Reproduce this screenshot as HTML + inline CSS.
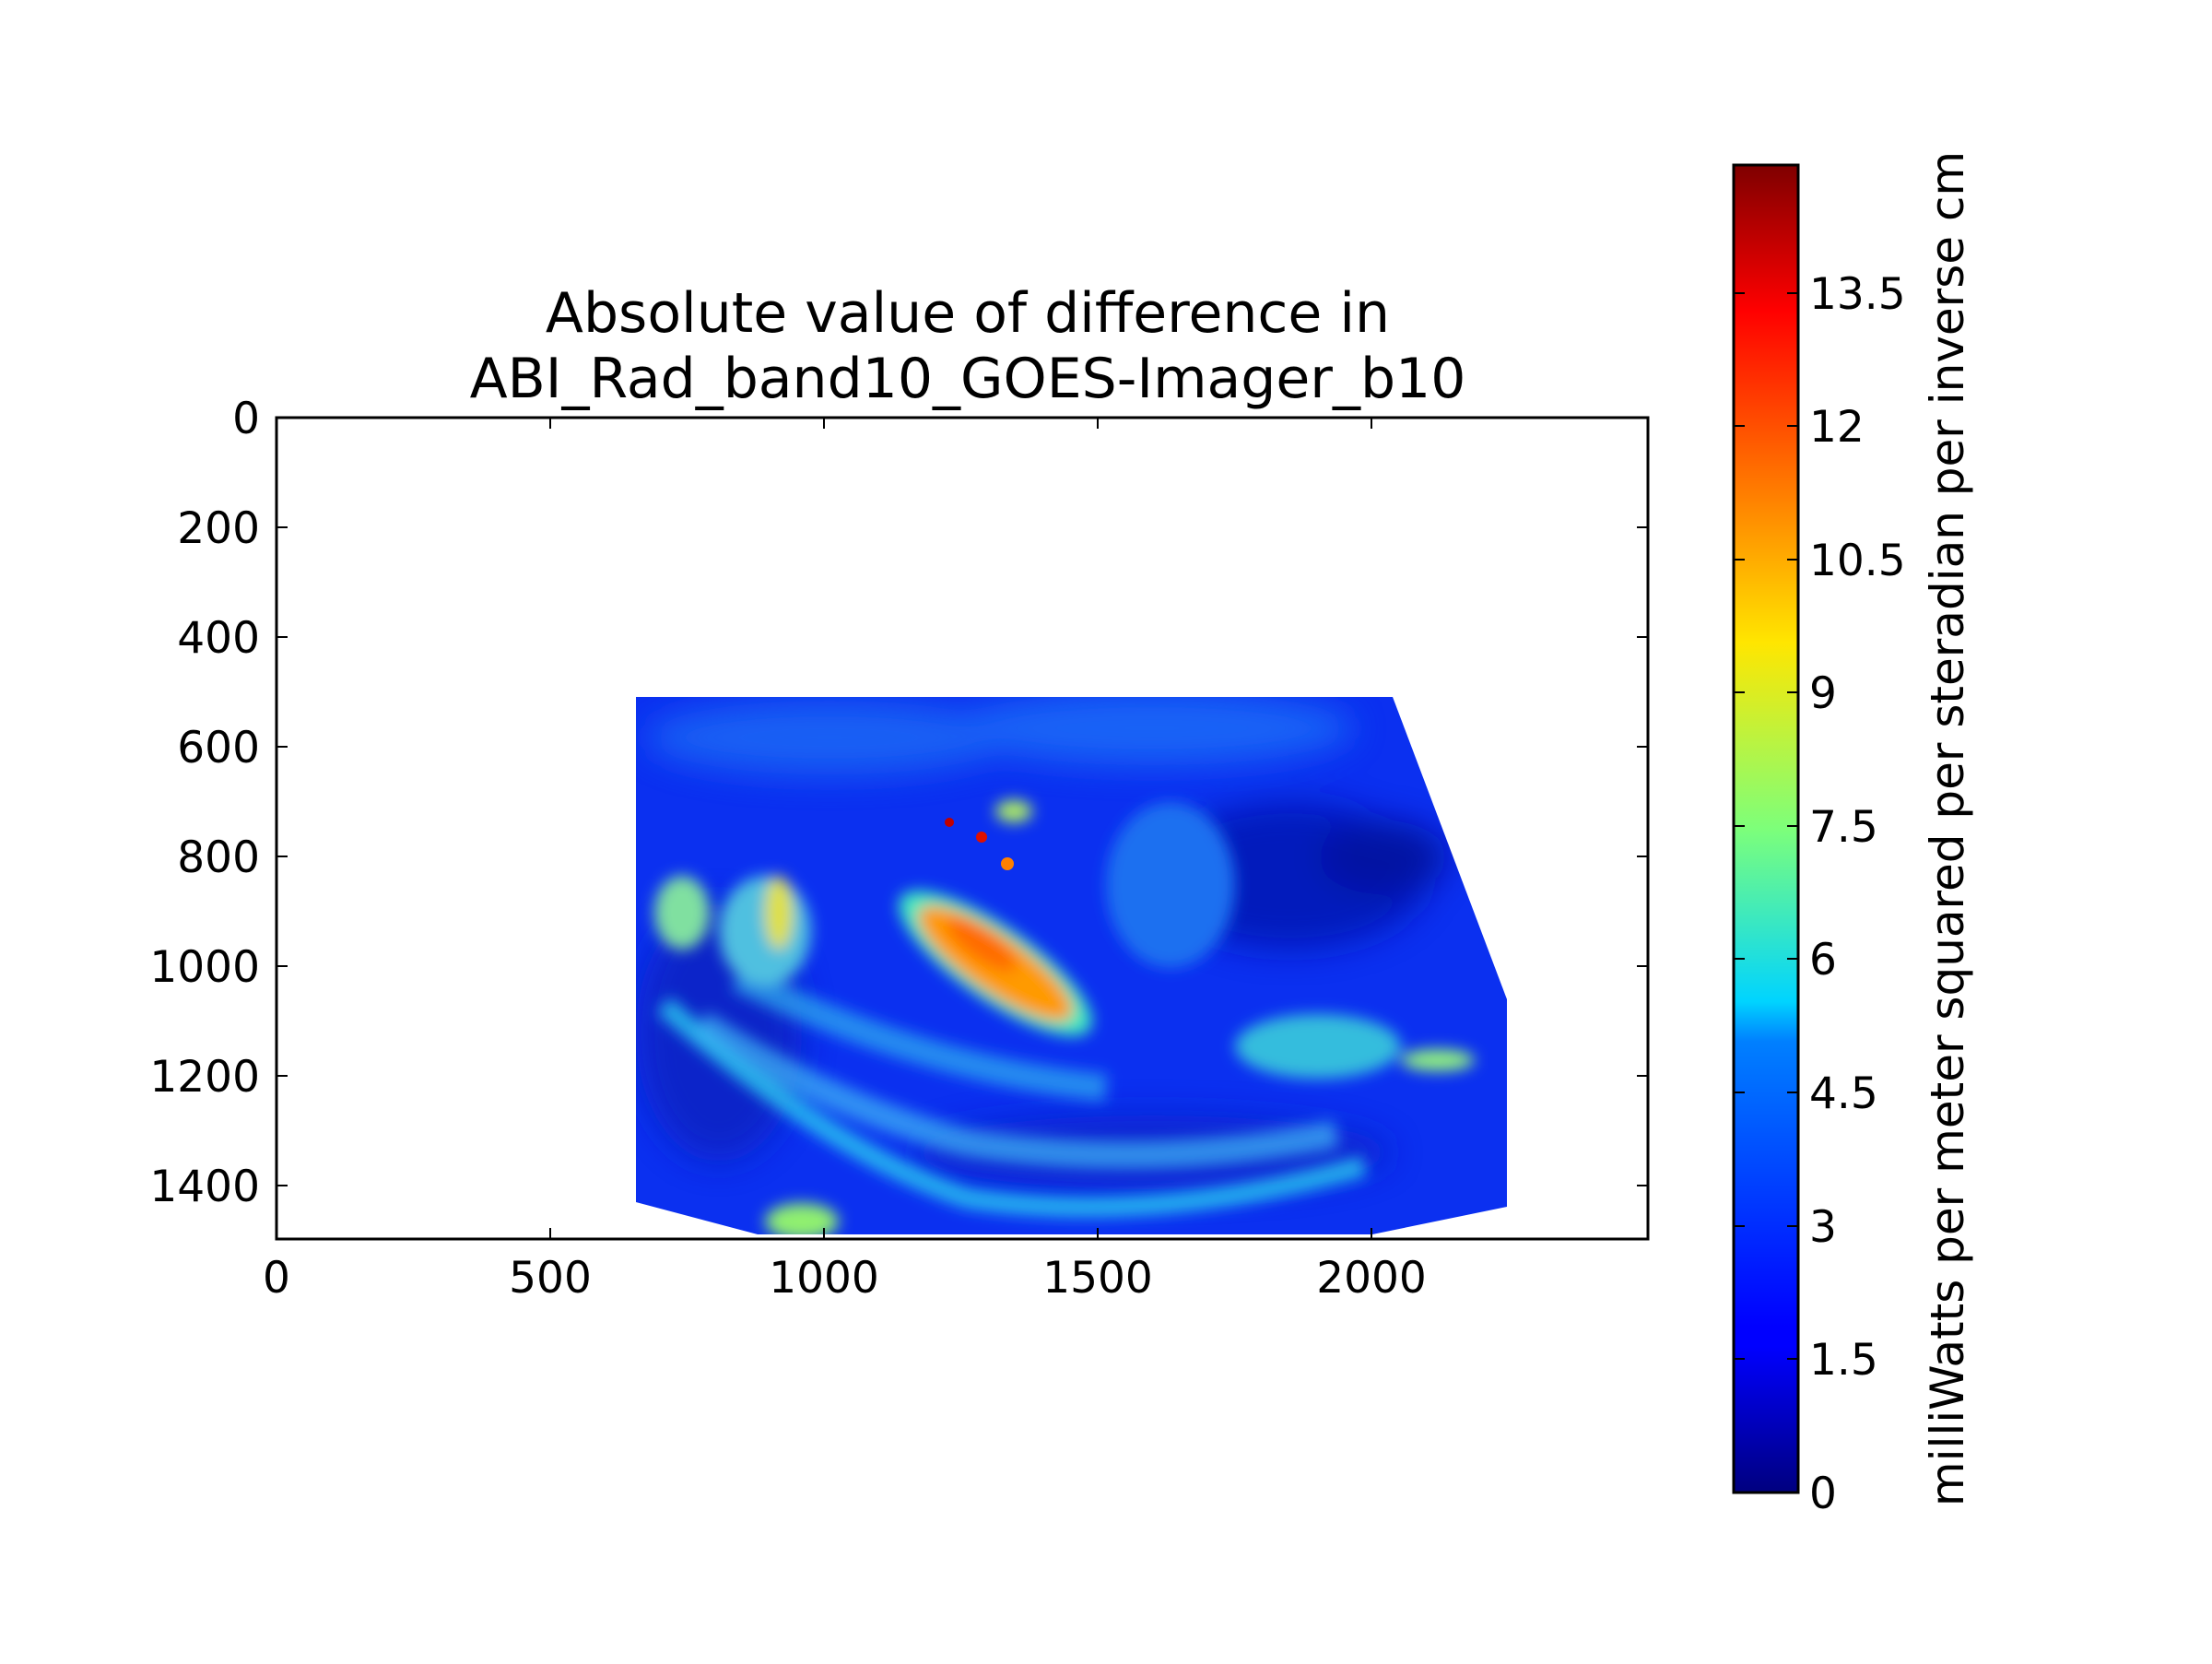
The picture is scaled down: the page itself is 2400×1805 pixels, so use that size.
<!DOCTYPE html>
<html><head><style>
html,body{margin:0;padding:0;background:#fff}
svg text{font-family:"DejaVu Sans","Liberation Sans",sans-serif;fill:#000}
</style></head><body>
<svg width="2400" height="1800" viewBox="0 0 2400 1800" xmlns="http://www.w3.org/2000/svg">
<defs>
<linearGradient id="jet" x1="0" y1="1" x2="0" y2="0">
<stop offset="0" stop-color="#00007f"/>
<stop offset="0.11" stop-color="#0000ff"/>
<stop offset="0.125" stop-color="#0000ff"/>
<stop offset="0.34" stop-color="#0080ff"/>
<stop offset="0.37" stop-color="#00d4ff"/>
<stop offset="0.5" stop-color="#7dff7a"/>
<stop offset="0.64" stop-color="#ffe600"/>
<stop offset="0.75" stop-color="#ff8000"/>
<stop offset="0.89" stop-color="#ff0000"/>
<stop offset="1" stop-color="#7f0000"/>
</linearGradient>
<filter id="b1" x="-50%" y="-50%" width="200%" height="200%"><feGaussianBlur stdDeviation="8"/></filter>
<filter id="b2" x="-50%" y="-50%" width="200%" height="200%"><feGaussianBlur stdDeviation="18"/></filter>
<clipPath id="img"><polygon points="690,756 1511,756 1635,1084 1635,1309 1489,1339 822,1339 690,1304"/></clipPath>
</defs>
<text x="1050" y="360" font-size="60" text-anchor="middle">Absolute value of difference in</text>
<text x="1050" y="431" font-size="60" text-anchor="middle">ABI_Rad_band10_GOES-Imager_b10</text>
<g clip-path="url(#img)">
<rect x="680" y="740" width="970" height="620" fill="#0b30f0"/>
<g filter="url(#b2)" opacity="0.8">
<ellipse cx="900" cy="800" rx="200" ry="40" fill="#1a6cf5"/>
<ellipse cx="1250" cy="790" rx="220" ry="40" fill="#1a70f8"/>
<ellipse cx="1400" cy="950" rx="150" ry="80" fill="#0614b0"/>
<ellipse cx="1500" cy="930" rx="70" ry="40" fill="#040f90"/>
<ellipse cx="1250" cy="1250" rx="260" ry="40" fill="#0a23c8"/>
<ellipse cx="780" cy="1120" rx="90" ry="140" fill="#0a20c0"/>
</g>
<g filter="url(#b1)">
<path d="M720,1090 Q900,1250 1050,1300 Q1250,1330 1480,1265" stroke="#2ad0f0" stroke-width="22" fill="none" opacity="0.8"/>
<path d="M760,1110 Q900,1200 1050,1240 Q1250,1270 1450,1230" stroke="#3fb8f5" stroke-width="30" fill="none" opacity="0.7"/>
<path d="M800,1060 Q1000,1160 1200,1180" stroke="#30b0f0" stroke-width="30" fill="none" opacity="0.7"/>
<ellipse cx="1430" cy="1135" rx="90" ry="35" fill="#3fe0d8" opacity="0.8"/>
<ellipse cx="1560" cy="1150" rx="40" ry="12" fill="#90f080"/>
<ellipse cx="1270" cy="960" rx="70" ry="90" fill="#1c70f0"/>
<ellipse cx="1100" cy="880" rx="20" ry="12" fill="#b0f060"/>
<ellipse cx="830" cy="1010" rx="50" ry="60" fill="#50c0e0"/>
<ellipse cx="740" cy="990" rx="30" ry="40" fill="#80e0a0"/>
<ellipse cx="845" cy="990" rx="15" ry="40" fill="#e0e040"/>
<ellipse cx="870" cy="1325" rx="40" ry="20" fill="#90f070"/>
</g>
<g filter="url(#b1)">
<ellipse cx="1080" cy="1045" rx="125" ry="40" fill="#40e8c0" transform="rotate(35 1080 1045)"/>
<ellipse cx="1080" cy="1045" rx="100" ry="30" fill="#ff9a00" transform="rotate(35 1080 1045)"/>
<ellipse cx="1065" cy="1025" rx="45" ry="15" fill="#ff6a00" transform="rotate(35 1065 1025)"/>
</g>
<circle cx="1030" cy="892" r="5" fill="#c00000"/>
<circle cx="1065" cy="908" r="6" fill="#e01000"/>
<circle cx="1093" cy="937" r="7" fill="#ff8000"/>
</g>
<rect x="300" y="453" width="1488" height="891" fill="none" stroke="#000" stroke-width="3"/>
<g stroke="#000" stroke-width="2">
<path d="M597,1344v-12M894,1344v-12M1191,1344v-12M1488,1344v-12M597,453v12M894,453v12M1191,453v12M1488,453v12"/>
<path d="M300,572h12M300,691h12M300,810h12M300,929h12M300,1048h12M300,1167h12M300,1286h12M1788,572h-12M1788,691h-12M1788,810h-12M1788,929h-12M1788,1048h-12M1788,1167h-12M1788,1286h-12"/>
</g>
<g font-size="47" text-anchor="middle">
<text x="300" y="1402">0</text><text x="597" y="1402">500</text><text x="894" y="1402">1000</text><text x="1191" y="1402">1500</text><text x="1488" y="1402">2000</text>
</g>
<g font-size="47" text-anchor="end">
<text x="282" y="470">0</text><text x="282" y="589">200</text><text x="282" y="708">400</text><text x="282" y="827">600</text><text x="282" y="946">800</text><text x="282" y="1065">1000</text><text x="282" y="1184">1200</text><text x="282" y="1303">1400</text>
</g>
<rect x="1881" y="179" width="70" height="1440" fill="url(#jet)" stroke="#000" stroke-width="3"/>
<g stroke="#000" stroke-width="2">
<path d="M1951,1474h-12M1951,1330h-12M1951,1185h-12M1951,1040h-12M1951,896h-12M1951,751h-12M1951,607h-12M1951,462h-12M1951,318h-12M1881,1474h12M1881,1330h12M1881,1185h12M1881,1040h12M1881,896h12M1881,751h12M1881,607h12M1881,462h12M1881,318h12"/>
</g>
<g font-size="47">
<text x="1963" y="1636">0</text><text x="1963" y="1491">1.5</text><text x="1963" y="1347">3</text><text x="1963" y="1202">4.5</text><text x="1963" y="1057">6</text><text x="1963" y="913">7.5</text><text x="1963" y="768">9</text><text x="1963" y="624">10.5</text><text x="1963" y="479">12</text><text x="1963" y="335">13.5</text>
</g>
<text x="0" y="0" font-size="50" text-anchor="middle" transform="translate(2130,899) rotate(-90)">milliWatts per meter squared per steradian per inverse cm</text>
</svg>
</body></html>
